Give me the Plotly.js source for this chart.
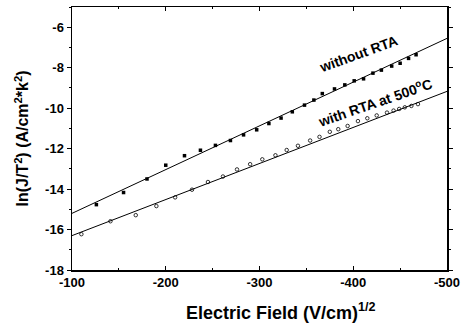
<!DOCTYPE html>
<html><head><meta charset="utf-8">
<script src="https://cdn.plot.ly/plotly-3.0.1.min.js"></script>
<style>html,body{margin:0;padding:0;background:#fff}#c{width:463px;height:325px}</style>
</head><body><div id="c"></div>
<script>
// data
var withoutX = [-126,-155,-180,-200,-220,-237,-253,-269,-283,-297,-310,-323,-335,-348,-358,-367,-380,-391,-401,-411,-421,-430,-441,-450,-459,-467];
var withoutY = [-14.77,-14.17,-13.50,-12.82,-12.35,-12.08,-11.84,-11.60,-11.32,-11.07,-10.76,-10.49,-10.18,-9.85,-9.60,-9.28,-9.05,-8.85,-8.65,-8.55,-8.27,-8.12,-7.92,-7.78,-7.54,-7.36];
var withX = [-110,-141,-168,-190,-210,-228,-245,-261,-276,-290,-303,-317,-329,-341,-354,-364,-375,-384,-394,-405,-415,-425,-436,-443,-449,-455,-462,-469];
var withY = [-16.23,-15.59,-15.29,-14.84,-14.41,-14.03,-13.65,-13.38,-13.03,-12.77,-12.53,-12.33,-12.07,-11.86,-11.60,-11.42,-11.17,-11.04,-10.88,-10.64,-10.50,-10.36,-10.22,-10.12,-10.04,-9.96,-9.89,-9.80];
var fitX = [-100,-500];
var fitWithout = [-15.2,-6.55];
var fitWith = [-16.3,-9.17];
var xTicks = [-100,-200,-300,-400,-500];
var yTicks = [-6,-8,-10,-12,-14,-16,-18];

var F = 'Liberation Sans, Arial, sans-serif';
var traces = [
  {x: fitX, y: fitWithout, mode:'lines', line:{color:'#000', width:1}, hoverinfo:'skip'},
  {x: fitX, y: fitWith, mode:'lines', line:{color:'#000', width:1}, hoverinfo:'skip'},
  {x: withoutX, y: withoutY, mode:'markers', marker:{symbol:'square', size:3.5, color:'#000'}},
  {x: withX, y: withY, mode:'markers', marker:{symbol:'circle-open', size:3.5, color:'#000', line:{width:0.8}}}
];
var layout = {
  width:463, height:325, showlegend:false,
  paper_bgcolor:'#fff', plot_bgcolor:'#fff',
  margin:{l:72, r:16, t:7, b:55},
  font:{family:F, color:'#000'},
  xaxis:{range:[-100,-500], tickvals:xTicks, ticktext:xTicks.map(String),
    showgrid:false, zeroline:false, showline:true, linecolor:'#000', linewidth:1.5, mirror:'ticks',
    ticks:'inside', ticklen:4, tickwidth:1, tickcolor:'#000',
    minor:{dtick:50, tick0:-100, ticks:'inside', ticklen:2, tickcolor:'#000'},
    tickfont:{family:F, size:13, weight:'bold'}},
  yaxis:{range:[-18,-5], tickvals:yTicks, ticktext:yTicks.map(String),
    showgrid:false, zeroline:false, showline:true, linecolor:'#000', linewidth:1.5, mirror:'ticks',
    ticks:'outside', ticklen:4, tickwidth:1, tickcolor:'#000',
    minor:{dtick:1, tick0:-18, ticks:'outside', ticklen:2, tickcolor:'#000'},
    tickfont:{family:F, size:13, weight:'bold'},
    title:{text:'ln(J/T<sup>2</sup>) (A/cm<sup>2</sup>*k<sup>2</sup>)', font:{family:F, size:16, weight:'bold'}, standoff:12}},
  annotations:[
    {x:0.557, y:-0.156, xref:'paper', yref:'paper', yanchor:'middle', text:'Electric Field (V/cm)<sup>1/2</sup>', showarrow:false,
      font:{family:F, size:18, weight:'bold', color:'#000'}},
    {x:-405, y:-7.3, xref:'x', yref:'y', text:'without RTA', showarrow:false, textangle:-20,
      font:{family:F, size:14, weight:'bold', color:'#000'}},
    {x:-423, y:-9.72, xref:'x', yref:'y', text:'with RTA at 500<sup>o</sup>C', showarrow:false, textangle:-19,
      font:{family:F, size:14, weight:'bold', color:'#000'}}
  ]
};
Plotly.newPlot('c', traces, layout, {staticPlot:true, displayModeBar:false});
</script></body></html>
